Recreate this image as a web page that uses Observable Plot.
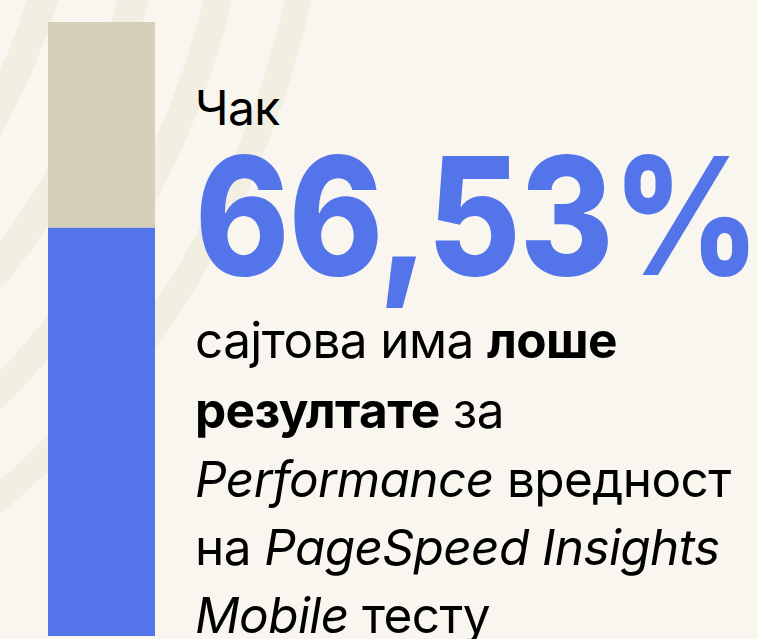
<!DOCTYPE html>
<html>
<head>
<meta charset="utf-8">
<script src="https://cdn.jsdelivr.net/npm/d3@7"></script>
<script src="https://cdn.jsdelivr.net/npm/@observablehq/plot@0.6"></script>
<style>
  html, body { margin: 0; padding: 0; }
  body { width: 758px; height: 639px; overflow: hidden; font-family: Inter, "Noto Sans", sans-serif; }
  #wrap {
    position: relative; width: 758px; height: 639px; overflow: hidden;
    background: radial-gradient(circle at -600px -200px,
      #f9f6ef 0 658px, #f3eee2 658px 688px,
      #f9f6ef 688px 745px, #f3eee2 745px 775px,
      #f9f6ef 775px 828px, #f3eee2 828px 856px,
      #f9f6ef 856px 907px, #f3eee2 907px 933px,
      #f9f6ef 933px);
  }
  #chart { position: absolute; left: 0; top: 0; }
  #text { position: absolute; left: 195px; top: 0; color: #000; white-space: nowrap; }
  .line { position: absolute; left: 0; font-size: 49.5px; line-height: 1; letter-spacing: -0.6px; }
  .lead { font-size: 48px; line-height: 0.8; }
  .big { position: absolute; left: 0; font-size: 164px; font-weight: 800; color: #5475ea; line-height: 0.6; letter-spacing: -1px; transform-origin: 0 0; }
  b { font-weight: 700; }
  i { font-style: italic; }
</style>
</head>
<body>
<div id="wrap">
  <div id="chart"></div>
  <div id="text"></div>
</div>
<script>
// Data
const segments = ["лоше", "остатокот"];
const shares = [66.53, 33.47];
const segmentColors = ["#5475ea", "#d6d0bb"];
const barCategory = "Mobile";

const headlineWord = "Чак";
const headlineValue = "66,53%";
const bodyLines = [
  "сајтова има <b>лоше</b>",
  "<b>резултате</b> за",
  "<i>Performance</i> вредност",
  "на <i>PageSpeed Insights</i>",
  "<i>Mobile</i> тесту"
];

const data = segments.map((s, i) => ({segment: s, share: shares[i], cat: barCategory}));

const chart = Plot.plot({
  width: 758,
  height: 639,
  marginLeft: 48,
  marginRight: 603,
  marginTop: 22,
  marginBottom: 3,
  style: {background: "transparent", overflow: "visible"},
  x: {type: "band", domain: [barCategory], padding: 0, axis: null},
  y: {domain: [0, 100], axis: null},
  color: {domain: segments, range: segmentColors},
  marks: [
    Plot.barY(data, Plot.stackY({x: "cat", y: "share", fill: "segment", order: segments}))
  ]
});
document.getElementById("chart").appendChild(chart);

// Text block
const t = document.getElementById("text");
const baselines = [358, 428, 497, 565, 633];
function addLine(html, cls, baseline, fitWidth) {
  const d = document.createElement("div");
  d.className = cls;
  d.innerHTML = html;
  t.appendChild(d);
  const probe = document.createElement("span");
  probe.style.display = "inline-block";
  probe.style.width = "0"; probe.style.height = "0";
  probe.style.verticalAlign = "baseline";
  d.appendChild(probe);
  const off = probe.offsetTop;
  if (fitWidth) {
    const r = document.createRange();
    r.selectNodeContents(d.firstChild);
    const w = r.getBoundingClientRect().width;
    d.style.transform = `scaleX(${fitWidth / w})`;
  }
  d.style.top = (baseline - off) + "px";
}
addLine(headlineWord, "line lead", 125);
addLine(headlineValue, "big", 275, 564);
bodyLines.forEach((l, i) => addLine(l, "line", baselines[i]));
</script>
</body>
</html>
